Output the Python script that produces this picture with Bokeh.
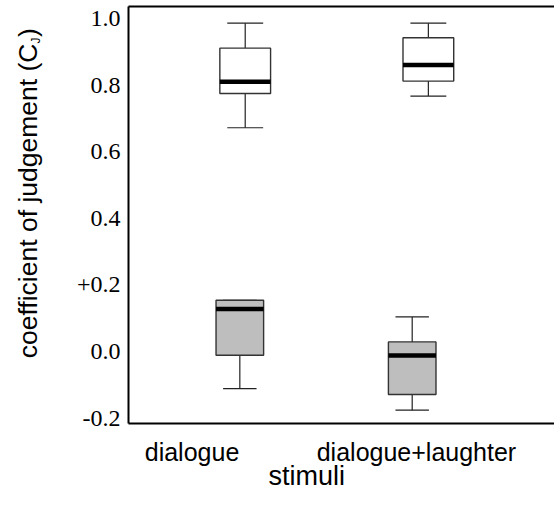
import math
from bokeh.plotting import figure
from bokeh.layouts import row
from bokeh.models import Range1d, LinearAxis, FixedTicker, ColumnDataSource, Title
from bokeh.core.properties import value
from bokeh.embed import file_html
from bokeh.resources import INLINE

# ---- data ----
categories = ["dialogue", "dialogue+laughter"]
cat_pos = [1, 2]

# upper (white) boxes
white_x = [1.237, 2.053]
white_lower = [0.672, 0.767]
white_q1 = [0.775, 0.812]
white_median = [0.810, 0.860]
white_q3 = [0.911, 0.942]
white_upper = [0.986, 0.986]

# lower (grey) boxes
gray_x = [1.213, 1.981]
gray_lower = [-0.111, -0.176]
gray_q1 = [-0.011, -0.129]
gray_median = [0.128, -0.012]
gray_q3 = [0.154, 0.029]
gray_upper = [0.154, 0.104]

y_ticks = [-0.2, 0.0, 0.2, 0.4, 0.6, 0.8, 1.0]
y_tick_labels = ["-0.2", "0.0", "+0.2", "0.4", "0.6", "0.8", "1.0"]

y_title = "coefficient of judgement (C"
y_title_sub = "J"
y_title_end = ")"
x_title = "stimuli"

H = 500
LW = 60  # width of the strip that carries the y title
FT, FB = 6, 423  # frame top / bottom in pixels

# ---- main figure ----
p = figure(width=554 - LW, height=H,
           x_range=Range1d(0.717, 2.615), y_range=Range1d(-0.216, 1.036),
           output_backend="svg", toolbar_location=None,
           min_border_left=68, min_border_right=0, min_border_top=FT,
           min_border_bottom=H - FB)
p.outline_line_color = None
p.xgrid.visible = False
p.ygrid.visible = False
p.background_fill_color = "white"
p.border_fill_color = "white"


def draw_boxes(xs, lo, q1, med, q3, hi, box_w, cap_w, fill):
    src = ColumnDataSource(dict(
        x=xs, lo=lo, q1=q1, med=med, q3=q3, hi=hi,
        bl=[x - box_w / 2 for x in xs], br=[x + box_w / 2 for x in xs],
        cl=[x - cap_w / 2 for x in xs], cr=[x + cap_w / 2 for x in xs],
    ))
    wk = dict(source=src, line_color="#222222", line_width=1.2)
    p.segment(x0="x", y0="q3", x1="x", y1="hi", **wk)
    p.segment(x0="x", y0="q1", x1="x", y1="lo", **wk)
    p.segment(x0="cl", y0="hi", x1="cr", y1="hi", **wk)
    p.segment(x0="cl", y0="lo", x1="cr", y1="lo", **wk)
    p.vbar(x="x", width=box_w, bottom="q1", top="q3", source=src,
           fill_color=fill, line_color="#333333", line_width=1.4)
    p.segment(x0="bl", y0="med", x1="br", y1="med", source=src,
              line_color="black", line_width=4.5, line_cap="butt")


draw_boxes(white_x, white_lower, white_q1, white_median, white_q3, white_upper,
           0.226, 0.160, "white")
draw_boxes(gray_x, gray_lower, gray_q1, gray_median, gray_q3, gray_upper,
           0.212, 0.149, "#bebebe")

# ---- axes ----
yax = p.yaxis[0]
yax.ticker = FixedTicker(ticks=y_ticks)
yax.major_label_overrides = {t: s for t, s in zip(y_ticks, y_tick_labels)}
yax.major_tick_line_color = None
yax.minor_tick_line_color = None
yax.major_tick_out = 0
yax.major_tick_in = 0
yax.major_label_standoff = 8
yax.major_label_text_font = "Liberation Serif"
yax.major_label_text_font_size = "24px"
yax.major_label_text_color = "black"
yax.axis_line_width = 2
yax.axis_line_color = "black"

xax = p.xaxis[0]
xax.ticker = FixedTicker(ticks=cat_pos)
xax.major_label_overrides = {t: s for t, s in zip(cat_pos, categories)}
xax.major_tick_line_color = None
xax.minor_tick_line_color = None
xax.major_tick_out = 0
xax.major_tick_in = 0
xax.major_label_standoff = 14
xax.major_label_text_font = "Liberation Sans"
xax.major_label_text_font_size = "25px"
xax.major_label_text_color = "black"
xax.axis_line_width = 2
xax.axis_line_color = "black"

top = LinearAxis(ticker=FixedTicker(ticks=[]), major_tick_out=0, major_tick_in=0,
                 minor_tick_out=0, minor_tick_in=0, major_label_standoff=0,
                 major_label_text_font_size="0px", axis_line_width=2,
                 axis_line_color="black")
p.add_layout(top, "above")

p.add_layout(Title(text=x_title, align="left", offset=140, standoff=-20,
                   text_font="Liberation Sans", text_font_size="27px",
                   text_font_style="normal", text_color="black"), "below")

# ---- strip with the rotated y title ----
s = figure(width=LW, height=H, x_range=Range1d(0, LW), y_range=Range1d(H - FB, H - FT),
           output_backend="svg", toolbar_location=None,
           min_border=0, min_border_left=0, min_border_right=0,
           min_border_top=FT, min_border_bottom=H - FB)
s.axis.visible = False
s.grid.visible = False
s.outline_line_color = None
s.background_fill_color = "white"
s.border_fill_color = "white"

rot = dict(angle=math.pi / 2, text_baseline="alphabetic",
           text_font=value("Liberation Sans"), text_color="black")
s.text(x=[27], y=[H - 43], text=[y_title], text_align="right",
       text_font_size="26.5px", **rot)
s.text(x=[35], y=[H - 43], text=[y_title_sub], text_align="left",
       text_font_size="12px", **rot)
s.text(x=[27], y=[H - 36.5], text=[y_title_end], text_align="left",
       text_font_size="26.5px", **rot)

layout = row(s, p, spacing=0)
open("out.html", "w").write(file_html(layout, INLINE))
